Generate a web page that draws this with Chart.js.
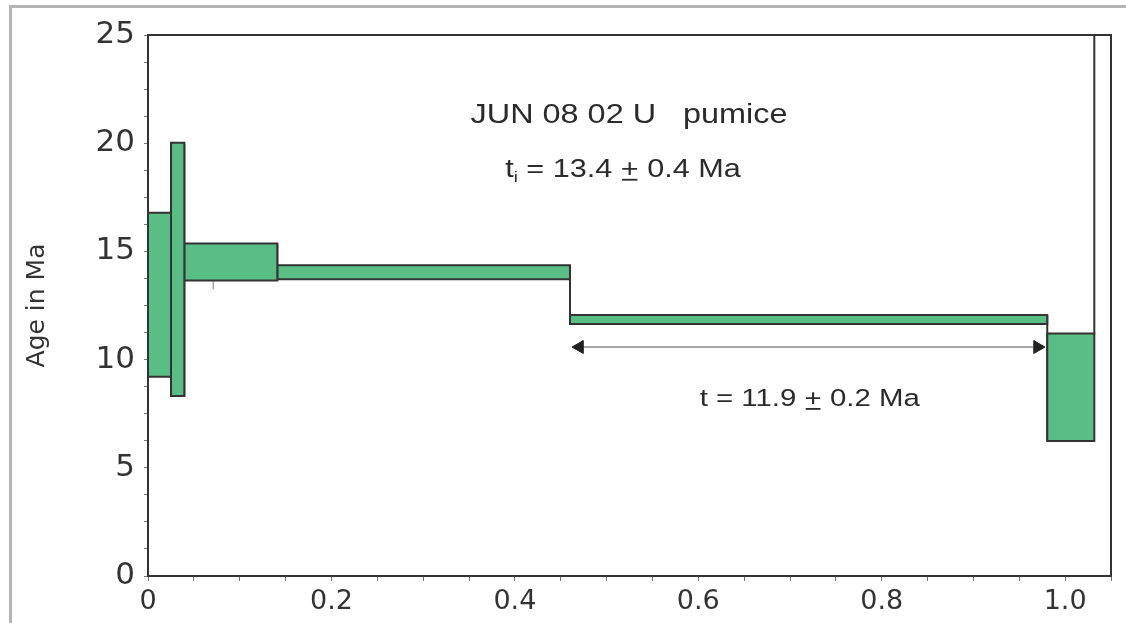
<!DOCTYPE html>
<html>
<head>
<meta charset="utf-8">
<script src="https://cdn.jsdelivr.net/npm/chart.js@4.4.1/dist/chart.umd.min.js"></script>
<style>
  html, body { margin: 0; padding: 0; background: #fff; }
  #wrap { position: relative; width: 1126px; height: 623px; overflow: hidden; }
  #spectrum { position: absolute; left: 0; top: 0; }
  #frame {
    position: absolute; left: 9px; top: 5px; width: 1300px; height: 800px;
    border-top: 3px solid #b4b4b4; border-left: 3px solid #b4b4b4;
    pointer-events: none;
  }
</style>
</head>
<body>
<div id="wrap">
  <canvas id="spectrum" width="1126" height="623"></canvas>
  <div id="frame"></div>
</div>
<script>
// ===============================
// Data
// ===============================
// cumulative fraction at the step edges
const stepEdges = [0, 0.0251, 0.0396, 0.1410, 0.4601, 0.9805, 1.0318, 1.05];
// age of each step, Ma (lower / upper end of the box)
const ageLow  = [9.21, 8.32, 13.66, 13.71, 11.65, 6.24];
const ageHigh = [16.79, 20.02, 15.37, 14.36, 12.06, 11.21];
// last step is off scale (> 25 Ma): only its left edge is seen
const ageMax = 25;

// small grey mark inside the third step
const markX = 0.0712;
const markAge = [13.25, 15.17];

// plateau arrow (ends of the line) and its age
const plateauX = [0.4705, 0.9699];
const plateauAge = 10.58;

// tick labels
const xLabelValues = [0, 0.2, 0.4, 0.6, 0.8, 1.0];
const xTickLabels = ["0", "0.2", "0.4", "0.6", "0.8", "1.0"];
const yLabelValues = [0, 5, 10, 15, 20, 25];
const yTickLabels = ["0", "5", "10", "15", "20", "25"];

// ===============================
// Datasets
// ===============================
const GREEN = "#58be86";
const EDGE = "#333333";

const datasets = [];
for (let i = 0; i < ageLow.length; i++) {
  const x0 = stepEdges[i], x1 = stepEdges[i + 1];
  datasets.push({
    data: [
      { x: x0, y: ageLow[i] },
      { x: x0, y: ageHigh[i] },
      { x: x1, y: ageHigh[i] },
      { x: x1, y: ageLow[i] },
      { x: x0, y: ageLow[i] }
    ],
    borderColor: EDGE,
    borderWidth: 2,
    borderJoinStyle: "miter",
    borderCapStyle: "square",
    backgroundColor: GREEN,
    fill: "shape",
    pointRadius: 0,
    tension: 0
  });
}

// vertical risers joining neighbouring steps
for (let i = 0; i < ageLow.length - 1; i++) {
  const xe = stepEdges[i + 1];
  datasets.push({
    data: [
      { x: xe, y: Math.min(ageLow[i], ageLow[i + 1]) },
      { x: xe, y: Math.max(ageHigh[i], ageHigh[i + 1]) }
    ],
    borderColor: EDGE,
    borderWidth: 2,
    pointRadius: 0,
    fill: false
  });
}

// edge of the off-scale last step
datasets.push({
  data: [
    { x: stepEdges[6], y: ageHigh[5] },
    { x: stepEdges[6], y: ageMax }
  ],
  borderColor: EDGE,
  borderWidth: 2,
  pointRadius: 0,
  fill: false,
  clip: 0
});

// grey mark in step 3
datasets.push({
  data: [{ x: markX, y: markAge[0] }, { x: markX, y: markAge[1] }],
  borderColor: "#a8a8a8",
  borderWidth: 1.5,
  pointRadius: 0,
  fill: false
});

// plateau arrow
datasets.push({
  data: [{ x: plateauX[0], y: plateauAge }, { x: plateauX[1], y: plateauAge }],
  borderColor: "#a6a6a6",
  borderWidth: 2,
  pointStyle: "triangle",
  pointRadius: 7.5,
  pointRotation: [-90, 90],
  pointBackgroundColor: "#222",
  pointBorderColor: "#222",
  pointBorderWidth: 1,
  fill: false
});

// ===============================
// Text on the plot
// ===============================
function drawPieces(ctx, cx, baseY, size, pieces) {
  const sx = 1.2;
  ctx.save();
  ctx.fillStyle = "#2b2b2b";
  ctx.strokeStyle = "#2b2b2b";
  ctx.textBaseline = "alphabetic";
  ctx.textAlign = "left";
  let total = 0;
  pieces.forEach(p => {
    const s = p.sub ? size * 0.6 : size;
    ctx.font = s + "px 'Liberation Sans', Arial, sans-serif";
    p.w = ctx.measureText(p.t).width;
    p.s = s;
    total += p.w;
  });
  ctx.translate(cx - total * sx / 2, baseY);
  ctx.scale(sx, 1);
  let x = 0;
  pieces.forEach(p => {
    ctx.font = p.s + "px 'Liberation Sans', Arial, sans-serif";
    const dy = p.sub ? size * 0.22 : 0;
    ctx.fillText(p.t, x, dy);
    if (p.ul) {
      ctx.lineWidth = 1.8;
      ctx.beginPath();
      ctx.moveTo(x + 1, 3);
      ctx.lineTo(x + p.w - 1, 3);
      ctx.stroke();
    }
    x += p.w;
  });
  ctx.restore();
}

const textPlugin = {
  id: "plotText",
  afterDatasetsDraw(chart) {
    const ctx = chart.ctx;
    const xs = chart.scales.x, ys = chart.scales.y;
    drawPieces(ctx, xs.getPixelForValue(0.5245), ys.getPixelForValue(20.92), 27,
      [{ t: "JUN 08 02 U   pumice" }]);
    drawPieces(ctx, xs.getPixelForValue(0.5179), ys.getPixelForValue(18.45), 25.5,
      [{ t: "t" }, { t: "i", sub: true }, { t: " = 13.4 " }, { t: "+", ul: true }, { t: " 0.4 Ma" }]);
    drawPieces(ctx, xs.getPixelForValue(0.7215), ys.getPixelForValue(7.86), 24.5,
      [{ t: "t = 11.9 " }, { t: "+", ul: true }, { t: " 0.2 Ma" }]);
  }
};

function pickLabel(values, labels) {
  return v => {
    const k = values.findIndex(t => Math.abs(t - v) < 1e-6);
    return k >= 0 ? labels[k] : "";
  };
}

// ===============================
// Chart
// ===============================
new Chart(document.getElementById("spectrum"), {
  type: "line",
  data: { datasets: datasets },
  plugins: [textPlugin],
  options: {
    responsive: false,
    animation: false,
    events: [],
    layout: { padding: { left: 22, top: 35, right: 15, bottom: 0 } },
    plugins: {
      legend: { display: false },
      tooltip: { enabled: false }
    },
    scales: {
      x: {
        type: "linear",
        position: "bottom",
        min: 0,
        max: 1.05,
        border: { color: EDGE, width: 2 },
        grid: { display: true, drawOnChartArea: false, drawTicks: true, tickLength: 5, tickColor: "#777", tickWidth: 1 },
        ticks: {
          stepSize: 0.05,
          autoSkip: false,
          maxRotation: 0,
          padding: 5,
          color: "#333",
          font: { family: "DejaVu Sans", size: 27 },
          callback: pickLabel(xLabelValues, xTickLabels)
        },
        afterFit: s => { s.height = 47; }
      },
      x2: {
        type: "linear",
        position: "top",
        border: { color: EDGE, width: 2 },
        grid: { display: false },
        ticks: { display: false },
        afterFit: s => { s.height = 0; }
      },
      y: {
        type: "linear",
        position: "left",
        min: 0,
        max: 25,
        border: { color: EDGE, width: 2 },
        grid: { display: true, drawOnChartArea: false, drawTicks: true, tickLength: 4, tickColor: "#777", tickWidth: 1 },
        ticks: {
          stepSize: 1.25,
          autoSkip: false,
          padding: 9,
          color: "#333",
          font: { family: "DejaVu Sans", size: 31 },
          callback: pickLabel(yLabelValues, yTickLabels)
        },
        title: {
          display: true,
          text: "Age in Ma",
          color: "#333",
          padding: 0,
          font: { family: "DejaVu Sans", size: 25 }
        },
        afterFit: s => { s.width = 126; }
      },
      y2: {
        type: "linear",
        position: "right",
        border: { color: EDGE, width: 2 },
        grid: { display: false },
        ticks: { display: false },
        afterFit: s => { s.width = 0; }
      }
    }
  }
});
</script>
</body>
</html>
